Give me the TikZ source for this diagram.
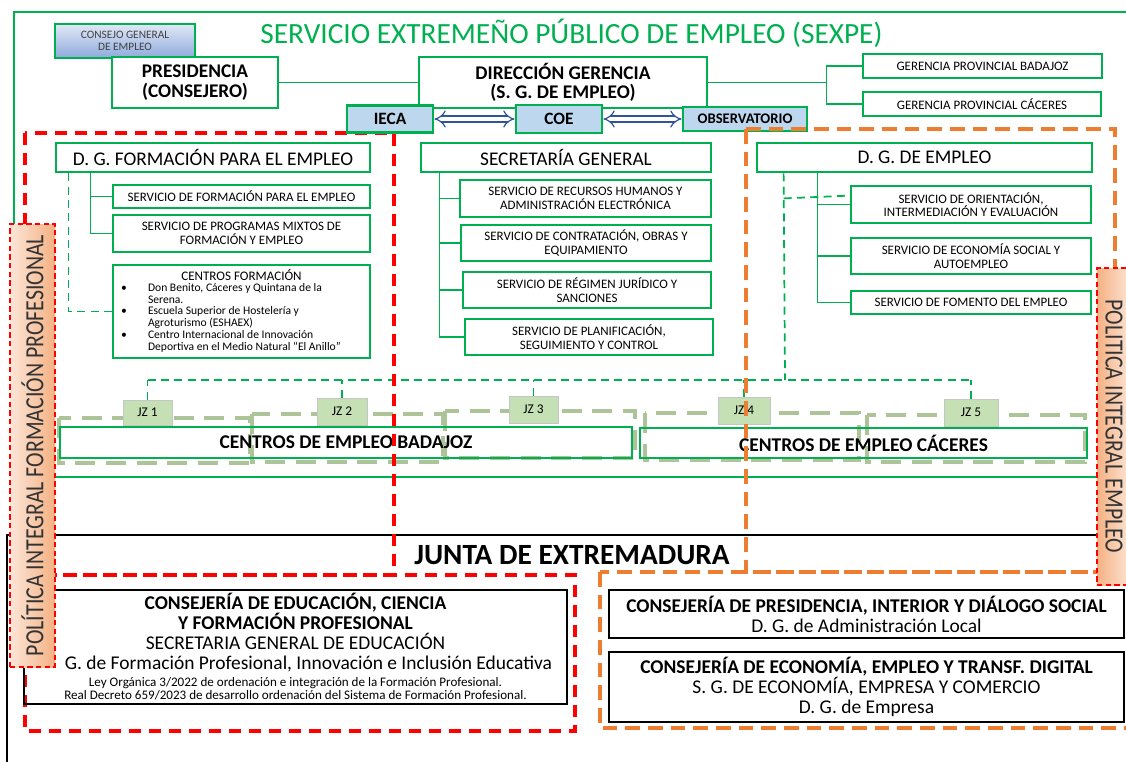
\documentclass[tikz,border=0pt]{standalone}
\usepackage{fontspec}
\setmainfont{Carlito}
\usetikzlibrary{positioning, arrows.meta, calc}

\definecolor{sexpegreen}{RGB}{0,176,80}
\definecolor{polred}{RGB}{255,0,0}
\definecolor{emporange}{RGB}{237,125,49}
\definecolor{boxblue}{RGB}{189,215,238}
\definecolor{jzgreen}{RGB}{197,224,180}
\definecolor{zonegray}{RGB}{172,196,152}
\definecolor{peach}{RGB}{244,177,131}
\definecolor{peachlight}{RGB}{252,230,216}
\definecolor{navyline}{RGB}{47,85,151}
\definecolor{consejotop}{RGB}{224,232,246}
\definecolor{consejobot}{RGB}{143,170,220}

\begin{document}
\begin{tikzpicture}[x=0.75pt, y=-0.75pt,
    sz/.style 2 args={minimum width=#1*0.75pt, minimum height=#2*0.75pt},
    box/.style={draw=sexpegreen, line width=2.1pt, fill=white, inner sep=0pt, align=center,
        font=\fontsize{9.7}{10}\selectfont},
    headbox/.style={box, font=\fontsize{14.5}{14.5}\selectfont},
    bighead/.style={box, font=\bfseries\fontsize{14.5}{14.5}\selectfont},
    unitbox/.style={box, fill=boxblue, font=\bfseries\fontsize{13}{13}\selectfont},
    cebox/.style={box, fill=none, font=\bfseries\fontsize{14.6}{14.6}\selectfont},
    jz/.style={draw=gray!45, line width=0.5pt, fill=jzgreen, inner sep=0pt,
        font=\fontsize{10}{10}\selectfont},
    zone/.style={draw=zonegray, line width=3pt, dash pattern=on 15pt off 8pt},
    conn/.style={draw=sexpegreen, line width=1.3pt},
    thinconn/.style={draw=sexpegreen, line width=0.9pt},
    dconn/.style={conn, dash pattern=on 6pt off 4pt},
    biarrow/.style={draw=navyline, line width=0.9pt, double=white, double distance=3.6pt, Implies-Implies},
    redzone/.style={draw=polred, line width=2.6pt, dash pattern=on 9pt off 6pt},
    orangezone/.style={draw=emporange, line width=2.6pt, dash pattern=on 11pt off 6pt},
    consej/.style={draw=black, line width=1.5pt, inner sep=0pt, align=center,
        font=\fontsize{14.6}{15}\selectfont},
    policy/.style={draw=polred, line width=0.9pt, dash pattern=on 4pt off 2.5pt, inner sep=0pt,
        text=black!80, font=\fontsize{16.4}{16.4}\selectfont}
]
    \useasboundingbox (0,0) rectangle (1126,761);

    % marcos SEXPE y Junta
    \draw[sexpegreen, line width=1.6pt] (14,12) rectangle (1140,477);
    \draw[line width=1.6pt] (7,780) |- (1140,535);

    \node[text=sexpegreen, font=\fontsize{22}{22}\selectfont] (sexpe) at (571.5,33)
        {SERVICIO EXTREMEÑO PÚBLICO DE EMPLEO (SEXPE)};
    \node[font=\bfseries\fontsize{22}{22}\selectfont] (junta) at (572,555) {JUNTA DE EXTREMADURA};

    % D. G. Formacion
    \node[headbox, sz={314}{29}] (dgform) at (213,157.5) {D. G. FORMACIÓN PARA EL EMPLEO};
    \node[box, sz={257}{23}] (sform) at (241.5,196.5) {SERVICIO DE FORMACIÓN PARA EL EMPLEO};
    \node[box, sz={257}{37}] (smixtos) at (241.5,233.5) {SERVICIO DE PROGRAMAS MIXTOS DE\\FORMACIÓN Y EMPLEO};
    \node[box, sz={257}{93}, font=\fontsize{8.7}{9}\selectfont] (centros) at (241.5,311.5) {%
        \renewcommand{\arraystretch}{0.95}%
        \begin{tabular}{@{}l@{\hspace{15.75pt}}l@{\hspace{15.75pt}}}
            \multicolumn{2}{@{}c@{}}{\fontsize{9.8}{10}\selectfont CENTROS FORMACIÓN}\\
            \textbullet & Don Benito, Cáceres y Quintana de la\\
                        & Serena.\\
            \textbullet & Escuela Superior de Hostelería y\\
                        & Agroturismo (ESHAEX)\\
            \textbullet & Centro Internacional de Innovación\\
                        & Deportiva en el Medio Natural “El Anillo”\\
        \end{tabular}};

    \draw[conn] ($(dgform.south west)+(36,0)$) |- (sform.west);
    \draw[conn] ($(dgform.south west)+(36,0)$) |- (smixtos.west);
    \draw[dconn] ($(dgform.south west)+(14,0)$) |- (centros.west);

    % Secretaria General
    \node[headbox, sz={290}{29}] (secgen) at (566,157.5) {SECRETARÍA GENERAL};
    \node[box, sz={251}{37}] (srrhh) at (585.5,198.5) {SERVICIO DE RECURSOS HUMANOS Y\\ADMINISTRACIÓN ELECTRÓNICA};
    \node[box, sz={250}{36}] (scontr) at (586,243) {SERVICIO DE CONTRATACIÓN, OBRAS Y\\EQUIPAMIENTO};
    \node[box, sz={248}{36}] (sregim) at (587,290) {SERVICIO DE RÉGIMEN JURÍDICO Y\\SANCIONES};
    \node[box, sz={248}{36}] (splan) at (589,337) {SERVICIO DE PLANIFICACIÓN,\\SEGUIMIENTO Y CONTROL};
    \foreach \s in {srrhh, scontr, sregim, splan}
        \draw[conn] ($(secgen.south west)+(20,0)$) |- (\s.west);

    % D. G. de Empleo
    \node[headbox, sz={335}{29}] (dgemp) at (924.5,157.5) {D. G. DE EMPLEO};
    \node[box, sz={240}{37}] (sorient) at (971,204.5) {SERVICIO DE ORIENTACIÓN,\\INTERMEDIACIÓN Y EVALUACIÓN};
    \node[box, sz={240}{36}] (secosoc) at (971,256) {SERVICIO DE ECONOMÍA SOCIAL Y\\AUTOEMPLEO};
    \node[box, sz={240}{23}] (sfoment) at (971,302.5) {SERVICIO DE FOMENTO DEL EMPLEO};
    \foreach \s in {sorient, secosoc, sfoment}
        \draw[conn] ($(dgemp.south west)+(62,0)$) |- (\s.west);
    \coordinate (jzbus) at (785,380);
    \draw[dconn] ($(dgemp.south west)+(28,0)$) -- (jzbus);
    \draw[dconn] ($(dgemp.south west)+(28,25)$) -- ($(sorient.north west)+(0,11)$);

    % zonas y centros de empleo
    \draw[zone] (59,418) rectangle (250,463);
    \draw[zone] (252,414) rectangle (443,462);
    \draw[zone] (445,411) rectangle (635,458);
    \draw[zone] (645,413) rectangle (859,460);
    \draw[zone] (867,415) rectangle (1085,462);
    \node[cebox, sz={572}{31}] (cebad) at (346,442.5) {CENTROS DE EMPLEO BADAJOZ};
    \node[cebox, sz={447}{30}] (cecac) at (863.5,443) {CENTROS DE EMPLEO CÁCERES};

    \node[jz, sz={49}{25}] (jz1) at (147.5,412.5) {JZ 1};
    \node[jz, sz={50}{27}] (jz2) at (342,411.5) {JZ 2};
    \node[jz, sz={49}{27}] (jz3) at (533.5,409.5) {JZ 3};
    \node[jz, sz={52}{27}] (jz4) at (744,410.5) {JZ 4};
    \node[jz, sz={54}{27}] (jz5) at (971,412.5) {JZ 5};
    \foreach \j in {1,...,5}
        \draw[dconn] (jz\j.north) -- (jz\j.north |- jzbus);
    \draw[dconn] (jz1.north |- jzbus) -- (jz5.north |- jzbus);

    % politica formacion
    \draw[redzone] (25,133) rectangle (394,575);
    \draw[redzone] (25,575) rectangle (575,731);

    % cabecera
    \node[box, top color=consejotop, bottom color=consejobot, text=black!75,
        font=\fontsize{8.5}{9}\selectfont, sz={140}{34}] (consejo) at (125,41) {CONSEJO GENERAL\\DE EMPLEO};
    \node[bighead, sz={166}{51}] (presid) at (195,82.5) {PRESIDENCIA\\(CONSEJERO)};
    \node[bighead, sz={288}{51}] (direc) at (563,82.5) {DIRECCIÓN GERENCIA\\(S. G. DE EMPLEO)};
    \node[box, sz={239}{24}] (gerbad) at (982.5,66) {GERENCIA PROVINCIAL BADAJOZ};
    \node[box, sz={238}{24}] (gercac) at (982,104) {GERENCIA PROVINCIAL CÁCERES};
    \draw[thinconn] (presid) -- (direc);
    \coordinate (gfork) at ($(direc.east)+(118,0)$);
    \draw[thinconn] (direc.east) -- (gfork);
    \draw[thinconn] (gerbad.west) -| (gfork) |- (gercac.west);

    \node[unitbox, sz={86}{27}] (ieca) at (390,119) {IECA};
    \node[unitbox, sz={86}{28}] (coe) at (559,119) {COE};
    \node[unitbox, sz={124}{24}, font=\bfseries\fontsize{11}{11}\selectfont] (obs) at (745,119) {OBSERVATORIO};
    \draw[biarrow] (ieca) -- (coe);
    \draw[biarrow] (coe) -- (obs);

    % politica empleo
    \draw[orangezone] (746,129) rectangle (1115,572);
    \draw[orangezone] (600,572) rectangle (1140,728);

    % consejerias de la Junta
    \node[consej, sz={543}{114}] (consedu) at (295.5,647) {%
        \textbf{CONSEJERÍA DE EDUCACIÓN, CIENCIA}\\
        \textbf{Y FORMACIÓN PROFESIONAL}\\
        SECRETARIA GENERAL DE EDUCACIÓN\\
        \hspace*{19.5pt}G. de Formación Profesional, Innovación e Inclusión Educativa\\[-2.2pt]
        {\fontsize{9.8}{9.8}\selectfont Ley Orgánica 3/2022 de ordenación e integración de la Formación Profesional.}\\[-5.2pt]
        {\fontsize{9.8}{9.8}\selectfont Real Decreto 659/2023 de desarrollo ordenación del Sistema de Formación Profesional.}};
    \node[consej, fill=white, sz={515}{48}] (conspres) at (866.5,614) {%
        \textbf{CONSEJERÍA DE PRESIDENCIA, INTERIOR Y DIÁLOGO SOCIAL}\\
        D. G. de Administración Local};
    \node[consej, fill=white, sz={515}{70}] (consecon) at (866.5,687) {%
        \textbf{CONSEJERÍA DE ECONOMÍA, EMPLEO Y TRANSF. DIGITAL}\\
        S. G. DE ECONOMÍA, EMPRESA Y COMERCIO\\
        D. G. de Empresa};

    % bandas laterales
    \node[policy, left color=peachlight, right color=peach, sz={45}{443}] (polform) at (32.5,445.5)
        {\rotatebox{90}{\scalebox{1}[1.2]{POLÍTICA INTEGRAL FORMACIÓN PROFESIONAL}}};
    \node[policy, left color=peach, right color=peachlight, sz={34}{317}] (polemp) at (1114,426.5)
        {\rotatebox{-90}{\scalebox{1}[1.2]{POLITICA INTEGRAL EMPLEO}}};
\end{tikzpicture}
\end{document}
